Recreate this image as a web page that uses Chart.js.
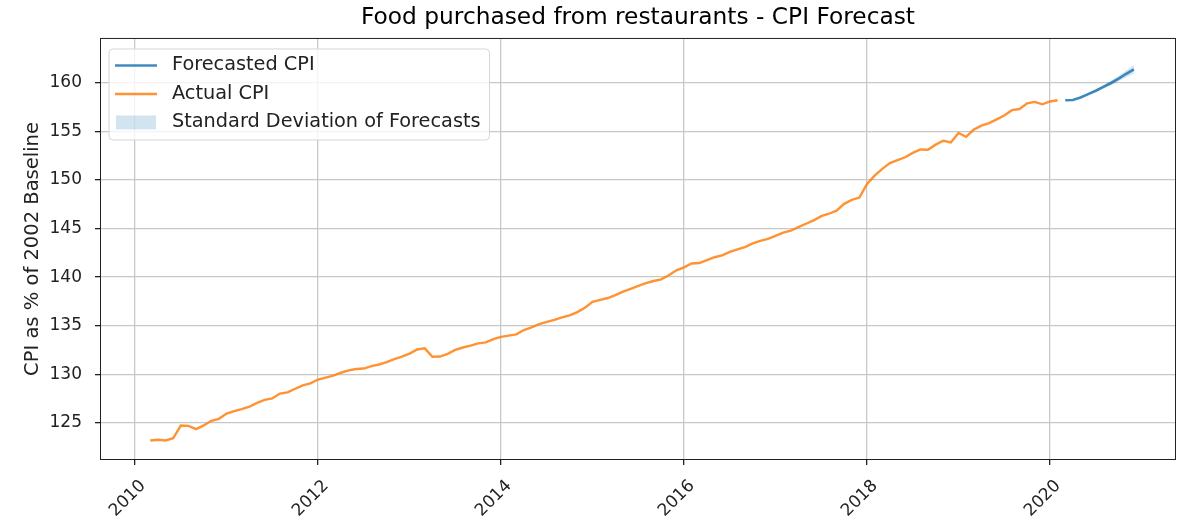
<!DOCTYPE html>
<html>
<head>
<meta charset="utf-8">
<script src="https://cdn.jsdelivr.net/npm/chart.js@4.4.1/dist/chart.umd.min.js"></script>
<style>
    html, body { margin: 0; padding: 0; background: #fff; }
    #wrap { width: 1186px; height: 526px; }
</style>
</head>
<body>
<div id="wrap"><canvas id="cpiChart" width="1186" height="526"></canvas></div>
<script>
// Datos (mensuales)
const actualStart = { year: 2010, month: 3 };
const actualCPI = [
    123.17, 123.24, 123.17, 123.40, 124.71, 124.68, 124.34, 124.72, 125.20, 125.40,
    125.95, 126.20, 126.40, 126.65, 127.05, 127.35, 127.50, 128.00, 128.13, 128.50,
    128.85, 129.05, 129.45, 129.65, 129.85, 130.15, 130.40, 130.53, 130.58, 130.83,
    131.00, 131.25, 131.55, 131.80, 132.12, 132.55, 132.66, 131.80, 131.82, 132.10,
    132.50, 132.75, 132.95, 133.17, 133.27, 133.62, 133.85, 133.97, 134.10, 134.55,
    134.82, 135.15, 135.38, 135.60, 135.85, 136.05, 136.40, 136.85, 137.45, 137.65,
    137.85, 138.15, 138.50, 138.80, 139.10, 139.38, 139.60, 139.77, 140.20, 140.70,
    141.00, 141.40, 141.45, 141.75, 142.05, 142.25, 142.60, 142.85, 143.10, 143.47,
    143.73, 143.95, 144.25, 144.58, 144.78, 145.15, 145.50, 145.85, 146.28, 146.53,
    146.85, 147.55, 147.95, 148.20, 149.60, 150.45, 151.15, 151.75, 152.05, 152.35,
    152.80, 153.15, 153.12, 153.65, 154.05, 153.88, 154.85, 154.45, 155.20, 155.60,
    155.87, 156.25, 156.65, 157.20, 157.32, 157.90, 158.05, 157.80, 158.10, 158.22
];
const forecastStart = { year: 2020, month: 3 };
const forecastCPI = [158.22, 158.25, 158.50, 158.85, 159.20, 159.60, 160.00, 160.45, 160.95, 161.40];
const forecastStd = [0.03, 0.05, 0.07, 0.10, 0.13, 0.17, 0.22, 0.28, 0.35, 0.45];

const xTickYears = [2010, 2012, 2014, 2016, 2018, 2020];
const yTickValues = [125, 130, 135, 140, 145, 150, 155, 160];
const legendLabels = ['Forecasted CPI', 'Actual CPI', 'Standard Deviation of Forecasts'];

const BLUE = 'rgba(31, 119, 180, 0.85)';
const ORANGE = 'rgba(255, 127, 14, 0.85)';
const BAND = 'rgba(31, 119, 180, 0.2)';
const FONT = '"DejaVu Sans", sans-serif';

// mes -> año decimal
const toYear = (start, i) => start.year + (start.month - 1 + i) / 12;

const actualPoints = actualCPI.map((v, i) => ({ x: toYear(actualStart, i), y: v }));
const forecastPoints = forecastCPI.map((v, i) => ({ x: toYear(forecastStart, i), y: v }));
const lowerPoints = forecastCPI.map((v, i) => ({ x: toYear(forecastStart, i), y: v - forecastStd[i] }));
const upperPoints = forecastCPI.map((v, i) => ({ x: toYear(forecastStart, i), y: v + forecastStd[i] }));

// Marco + leyenda dentro del área
const frameLegend = {
    id: 'frameLegend',
    afterDraw(chart) {
        const { ctx, chartArea } = chart;
        ctx.save();

        ctx.strokeStyle = '#222';
        ctx.lineWidth = 1;
        ctx.strokeRect(chartArea.left + 0.5, chartArea.top + 0.5,
            chartArea.right - chartArea.left - 1, chartArea.bottom - chartArea.top - 1);

        ctx.font = `19.3px ${FONT}`;
        const textW = Math.max(...legendLabels.map(t => ctx.measureText(t).width));
        const x0 = chartArea.left + 9;
        const y0 = chartArea.top + 11;
        const textX = x0 + 63;
        const rows = [16.5, 45, 73.5];
        const w = textX - x0 + textW + 9;
        const h = 91;

        ctx.beginPath();
        ctx.roundRect(x0, y0, w, h, 4);
        ctx.fillStyle = 'rgba(255, 255, 255, 0.8)';
        ctx.fill();
        ctx.strokeStyle = '#d6d6d6';
        ctx.stroke();

        ctx.lineWidth = 2.5;
        ctx.strokeStyle = BLUE;
        ctx.beginPath();
        ctx.moveTo(x0 + 6, y0 + rows[0]);
        ctx.lineTo(x0 + 48, y0 + rows[0]);
        ctx.stroke();

        ctx.strokeStyle = ORANGE;
        ctx.beginPath();
        ctx.moveTo(x0 + 6, y0 + rows[1]);
        ctx.lineTo(x0 + 48, y0 + rows[1]);
        ctx.stroke();

        ctx.fillStyle = BAND;
        ctx.fillRect(x0 + 7, y0 + rows[2] - 7, 40, 14);

        ctx.fillStyle = '#222';
        ctx.textBaseline = 'middle';
        legendLabels.forEach((t, i) => ctx.fillText(t, textX, y0 + rows[i]));

        ctx.restore();
    }
};

new Chart(document.getElementById('cpiChart'), {
    type: 'line',
    data: {
        datasets: [
            {
                label: legendLabels[0],
                data: forecastPoints,
                borderColor: BLUE,
                borderWidth: 2.6,
                pointRadius: 0,
                tension: 0,
                fill: false
            },
            {
                label: legendLabels[1],
                data: actualPoints,
                borderColor: ORANGE,
                borderWidth: 2.4,
                pointRadius: 0,
                tension: 0,
                fill: false
            },
            {
                label: 'lower',
                data: lowerPoints,
                borderWidth: 0,
                borderColor: 'rgba(0,0,0,0)',
                pointRadius: 0,
                fill: false
            },
            {
                label: legendLabels[2],
                data: upperPoints,
                borderWidth: 0,
                borderColor: 'rgba(0,0,0,0)',
                backgroundColor: BAND,
                pointRadius: 0,
                fill: '-1'
            }
        ]
    },
    options: {
        responsive: false,
        animation: false,
        events: [],
        layout: { padding: { left: 0, right: 10, top: 0, bottom: 0 } },
        plugins: {
            legend: { display: false },
            tooltip: { enabled: false },
            title: {
                display: true,
                fullSize: false,
                text: 'Food purchased from restaurants - CPI Forecast',
                color: '#000',
                font: { family: FONT, size: 23.3, weight: 'normal' },
                padding: { top: 4, bottom: 6 }
            }
        },
        scales: {
            x: {
                type: 'linear',
                min: 2009.617,
                max: 2021.377,
                afterBuildTicks: s => { s.ticks = xTickYears.map(v => ({ value: v })); },
                afterFit: s => { s.height = 66; },
                ticks: {
                    autoSkip: false,
                    minRotation: 45,
                    maxRotation: 45,
                    padding: 11,
                    labelOffset: 8,
                    color: '#222',
                    font: { family: FONT, size: 17 },
                    callback: v => String(v)
                },
                grid: { color: '#c8c8c8', lineWidth: 1.3, tickColor: '#222', tickLength: 5 },
                border: { display: false }
            },
            y: {
                min: 121.16,
                max: 164.64,
                afterBuildTicks: s => { s.ticks = yTickValues.map(v => ({ value: v })); },
                afterFit: s => { s.width = 100; },
                ticks: {
                    autoSkip: false,
                    padding: 13,
                    color: '#222',
                    font: { family: FONT, size: 17 },
                    callback: v => String(v)
                },
                grid: { color: '#c8c8c8', lineWidth: 1.3, tickColor: '#222', tickLength: 5 },
                border: { display: false },
                title: {
                    display: true,
                    text: 'CPI as % of 2002 Baseline',
                    color: '#222',
                    font: { family: FONT, size: 19.5 },
                    padding: { top: 21, bottom: 0 }
                }
            }
        }
    },
    plugins: [frameLegend]
});
</script>
</body>
</html>
